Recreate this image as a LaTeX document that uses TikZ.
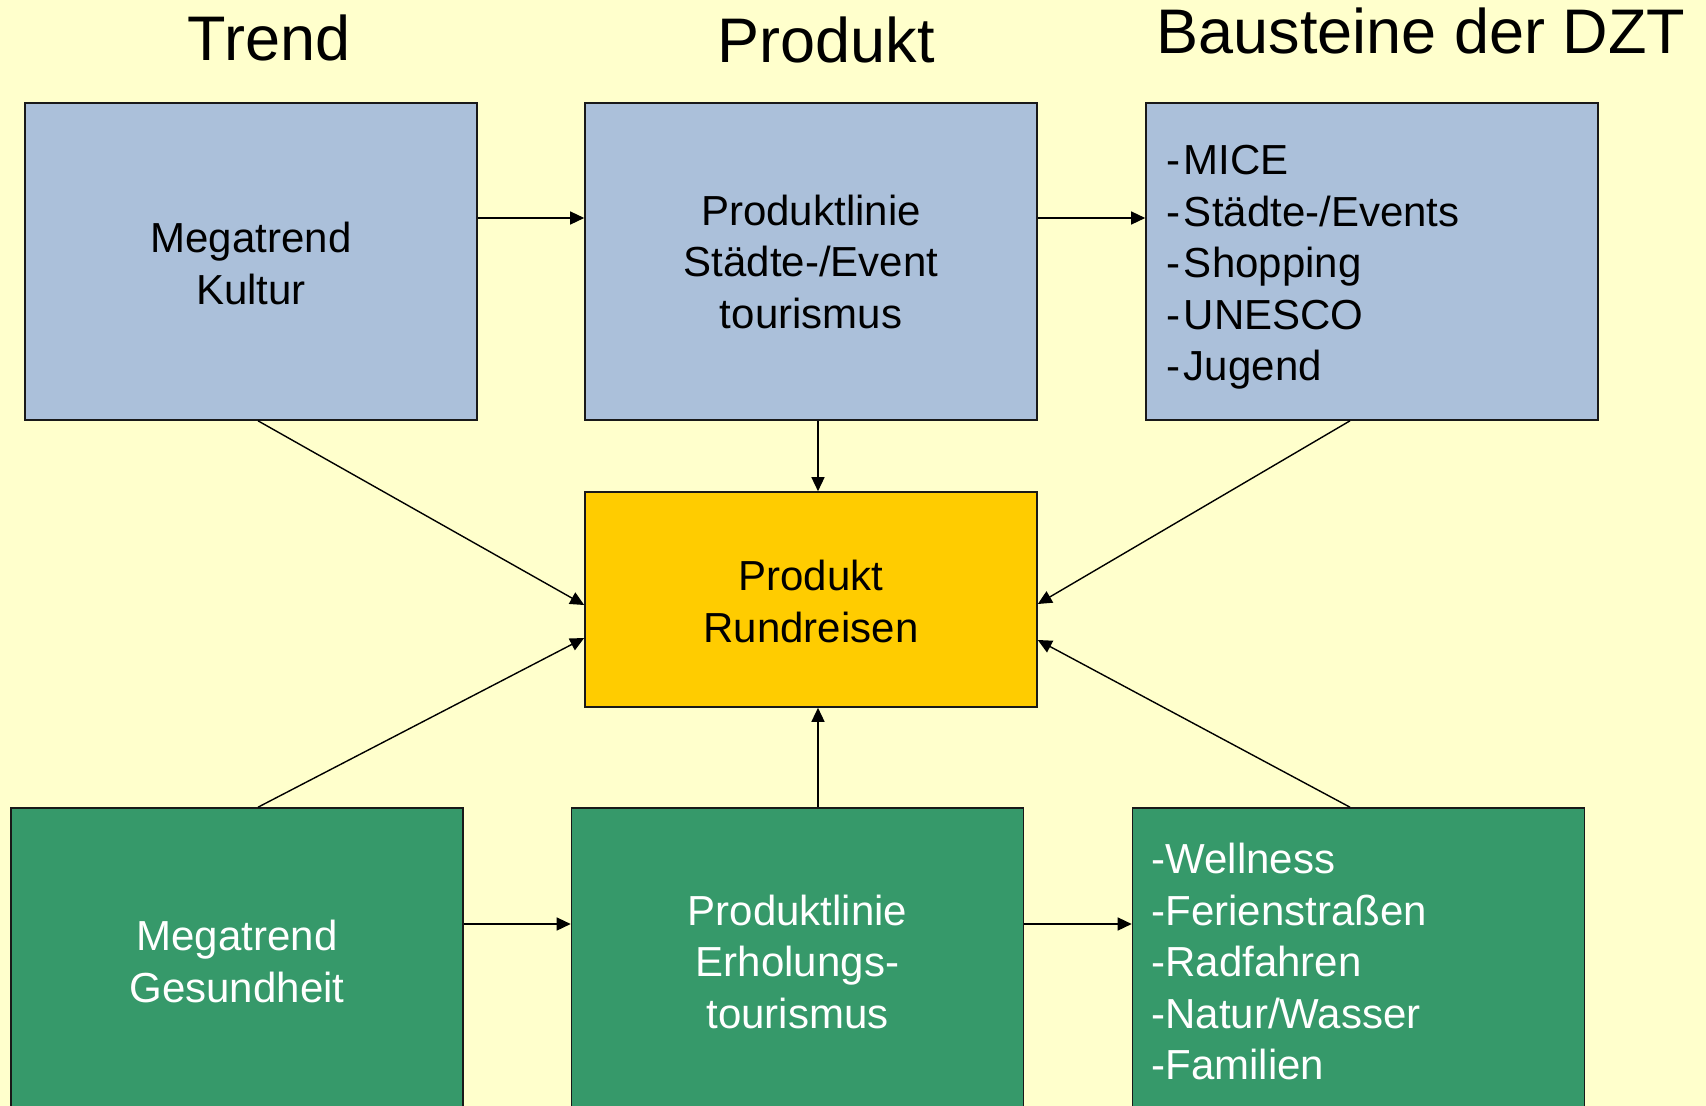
\documentclass[tikz,border=0pt]{standalone}
\usepackage{fontspec}
\setmainfont{Liberation Sans}
\usetikzlibrary{arrows.meta}
\definecolor{bg}{RGB}{255,255,204}
\definecolor{bluebox}{RGB}{171,192,218}
\definecolor{greenbox}{RGB}{54,153,106}
\definecolor{goldbox}{RGB}{255,204,0}
\begin{document}
\begin{tikzpicture}[x=1pt,y=-1pt,
  box/.style={draw=black!90, line width=1.6pt, minimum width=452pt, minimum height=317pt,
    inner sep=0pt, font=\fontsize{42}{51.5}\selectfont, align=center},
  lowbox/.style={box, minimum height=307pt, fill=greenbox, text=white},
  listbox/.style={box, align=left, text width=412pt, inner xsep=20pt},
  head/.style={font=\fontsize{63}{70}\selectfont, anchor=base, inner sep=0pt},
  arr/.style={line width=1.4pt, -{Triangle[length=14pt,width=13pt]}}]
\fill[bg] (0,0) rectangle (1706,1106);
\clip (0,0) rectangle (1706,1106);
% headings
\node[head] (h1) at (269,60) {Trend};
\node[head] (h2) at (826,62) {Produkt};
\node[head] (h3) at (1421,53) {Bausteine der DZT};
% top row
\node[box, fill=bluebox] (b1) at (251,261.5) {\rule{0pt}{34pt}Megatrend\\Kultur};
\node[box, fill=bluebox] (b2) at (811,261.5) {Produktlinie\\Städte-/Event\\tourismus};
\node[listbox, fill=bluebox] (b3) at (1372,261.5) {\rule{0pt}{41pt}-\kern4pt MICE\\-\kern4pt Städte-/Events\\-\kern4pt Shopping\\-\kern4pt UNESCO\\-\kern4pt Jugend};
% centre
\node[box, fill=goldbox, minimum height=215pt] (rr) at (811,599.5) {\rule{0pt}{34pt}Produkt\\Rundreisen};
% bottom row
\node[lowbox] (g1) at (237,961.5) {Megatrend\\Gesundheit};
\node[lowbox] (g2) at (797.5,961.5) {Produktlinie\\Erholungs-\\tourismus};
\node[lowbox, align=left, inner xsep=19pt, text width=414pt] (g3) at (1358.5,961.5) {-Wellness\\-Ferienstraßen\\-Radfahren\\-Natur/Wasser\\-Familien};
% arrows top
\draw[arr] (b1.east |- 0,218) -- (b2.west |- 0,218);
\draw[arr] (b2.east |- 0,218) -- (b3.west |- 0,218);
\draw[arr] (b2.south -| 818,0) -- (rr.north -| 818,0);
\draw[arr] (b1.south -| 258,0) -- (rr.west |- 0,605);
\draw[arr] (b3.south -| 1350,0) -- (rr.east |- 0,604);
% arrows bottom
\draw[arr] (g1.north -| 258,0) -- (rr.west |- 0,638);
\draw[arr] (g3.north -| 1350,0) -- (rr.east |- 0,640);
\draw[arr] (g2.north -| 818,0) -- (rr.south -| 818,0);
\draw[arr] (g1.east |- 0,924) -- (g2.west |- 0,924);
\draw[arr] (g2.east |- 0,924) -- (g3.west |- 0,924);
\end{tikzpicture}
\end{document}
